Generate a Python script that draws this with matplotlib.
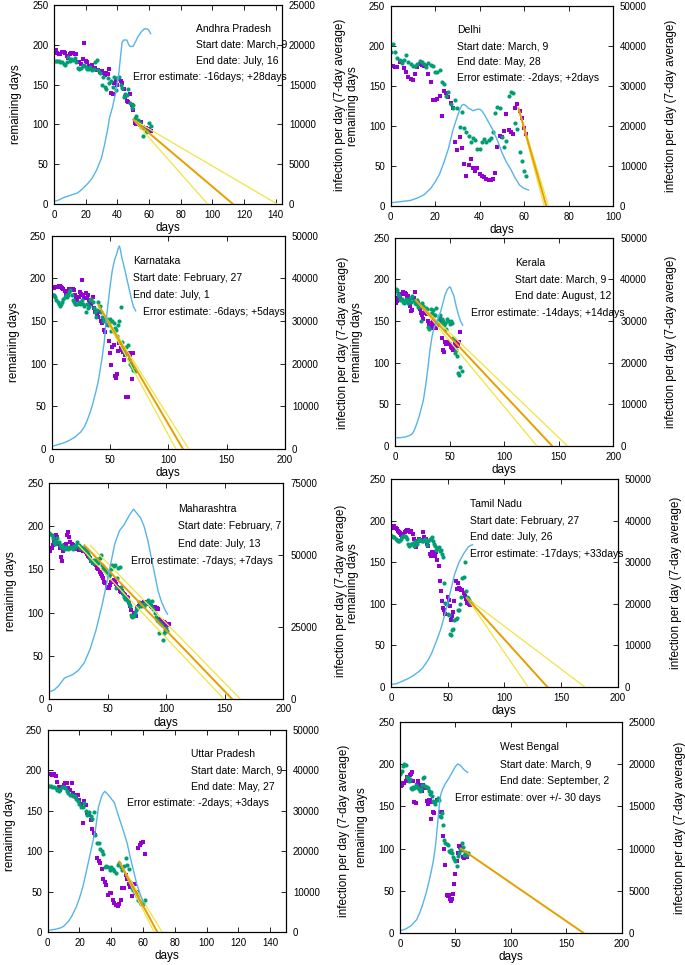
import numpy as np
import matplotlib
matplotlib.use('Agg')
import matplotlib.pyplot as plt

plt.rcParams['font.family'] = ['Liberation Sans', 'DejaVu Sans']

# ---------------- data ----------------
states = ["Andhra Pradesh", "Delhi", "Karnataka", "Kerala",
          "Maharashtra", "Tamil Nadu", "Uttar Pradesh", "West Bengal"]
start_dates = ["March, 9", "March, 9", "February, 27", "March, 9",
               "February, 7", "February, 27", "March, 9", "March, 9"]
end_dates = ["July, 16", "May, 28", "July, 1", "August, 12",
             "July, 13", "July, 26", "May, 27", "September, 2"]
error_texts = ["-16days; +28days", "-2days; +2days", "-6days; +5days", "-14days; +14days",
               "-7days; +7days", "-17days; +33days", "-2days; +3days", "over +/- 30 days"]

# purple squares (remaining days, one per day starting at day 0)
purple_ap = [194,193,190,188,189,191,191,190,186,183, 188,190,190,189,188,178,178,176,182,202,
             180,178,173,172,174,170,171,168,168,166, 167,164,162,165,163,169,140,138,152,155,
             150,157,155,152,145,135,130,128,138,124, 118,102,100,100,99,103,97,96,95,93, 94,92]
green_ap = [180,180,180,180,179,178,176,175,178,185, 180,182,181,183,178,171,170,171,173,175,
            172,170,170,172,168,170,178,181,168,165, 150,160,147,144,158,152,155,147,160,143,
            158,160,150,146,135,138,137,145,127,121, 125,108,110,105,102,97,85,96,90,92, 102,98]
blue_ap_days = [0,3,6,9,12,15,18,21,24,27,30,32,34,35,37,39,41,42,43,44,46,47,48,50,51,53,55,57,59,60,61]
blue_ap = [300,500,800,1000,1200,1400,1900,2500,3200,4300,5800,7500,9500,10800,12200,14000,16500,
           18500,20300,20600,20600,20100,19800,19800,20200,21000,21600,22000,22000,21800,21400]

purple_dl = [175,175,174,174,180,180,172,167,161,159, 158,165,174,177,176,175,175,165,155,133,
             133,134,137,112,144,141,136,129,122,80, 70,86,72,52,38,51,59,48,44,47,
             40,38,36,34,32,32,34,41,74,87, 86,94,115,95,92,90,123,127,119,110, 98,90]
green_dl = [193,202,193,185,183,179,182,189,180,177, 175,175,177,181,180,178,174,179,176,175,
            168,168,170,155,153,137,143,128,123,132, 123,99,117,97,93,88,80,85,82,71,
            71,80,84,80,82,85,92,116,124,122, 86,74,81,138,143,141,104,96,68,56, 44,38]
blue_dl_days = [0,3,6,9,12,15,18,20,22,24,26,28,30,31,32,33,34,35,36,37,38,39,40,41,42,44,46,48,50,52,54,56,58,60,62]
blue_dl = [800,1000,1200,1400,2000,2800,4400,6000,8000,11000,14400,19000,22400,24000,25200,25400,
           25000,24400,24200,23800,24000,24200,24200,23800,23000,21000,19000,16400,13400,11000,
           9200,7000,5200,4400,4000]

purple_ka = [189,189,189,190,190,190,191,191,190,189, 187,185,182,180,183,187,188,187,188,186,
             180,176,175,178,184,182,198,180,177,183, 177,181,175,172,170,178,165,160,162,157,
             155,160,150,148,150,140,137,145,148,127, 113,98,120,122,85,83,88,115,124,118,
             116,114,104,110,61,61,113,110,100,82, 113]
green_ka = [181,181,180,178,175,172,170,168,170,172, 176,178,180,178,180,184,186,180,175,172,
            170,170,170,172,170,172,175,170,168,160, 170,165,168,175,176,172,165,160,155,163,
            172,168,160,155,150,154,150,152,145,148, 152,138,150,148,142,139,132,145,150,166,
            125,118,115,112,120,122,105,100,98,96, 93,92]
blue_ka_days = [0,5,10,15,20,25,28,30,33,35,38,40,43,45,47,50,52,54,56,57,58,59,60,62,64,66,68,70,72]
blue_ka = [600,1000,1400,2000,2800,4000,5200,6400,8600,10400,13600,16000,21000,25000,31000,38000,
           42000,44400,46000,47000,47600,46600,45000,42800,40400,38000,35600,33400,32400]

purple_kl = [172,172,174,178,182,178,182,185,184,184, 182,180,180,175,168,162,163,178,185,172,
             170,172,168,165,160,157,152,160,162,158, 150,147,145,148,142,150,146,142,142,145,
             150,152,148,130,115,113,125,122,125,125, 122,119,118,115,120,122,125,120,122,125, 137]
green_kl = [186,188,187,182,180,175,177,173,172,174, 176,173,172,175,178,173,180,175,172,171,
            175,167,170,168,150,172,168,165,166,165, 143,140,158,165,160,163,157,157,166,150,
            155,157,148,152,150,145,148,140,153,150, 147,150,148,130,128,112,115,108,88,85, 95,90]
blue_kl_days = [0,5,10,14,16,18,20,22,24,26,28,30,32,34,36,38,40,42,44,46,48,50,51,52,54,56,58,60,62]
blue_kl = [2000,2000,2200,2600,3000,4000,5400,7000,9000,11000,14400,18400,23000,26400,28600,29600,
           31000,32400,34400,36400,37600,38200,38000,37200,36000,33600,31600,30000,29000]

purple_mh = [172,172,175,178,182,185,190,188,180,175, 165,160,172,178,180,190,193,188,182,180,
             178,176,175,176,174,173,175,174,173,172, 172,170,168,166,164,163,160,158,157,156,
             155,152,150,147,145,142,140,136,134,130, 128,128,132,135,137,138,136,133,130,128,
             125,124,125,123,122,120,118,117,112,108, 103,96,100,97,96,105,107,108,111,110,
             110,112,111,112,111,110,110,108,106,107, 107,104,105,104,92,91,90,89,89,88, 86,85,87]
green_mh = [192,191,190,186,182,180,183,186,182,178, 176,178,175,174,176,175,174,176,175,176,
            174,177,176,178,182,178,175,176,175,174, 175,173,170,168,165,162,160,157,161,158,
            160,162,158,163,167,155,152,150,148,146, 144,142,145,150,155,154,155,128,140,152,
            153,130,125,122,118,116,115,113,110,108, 97,95,96,100,103,105,106,112,108,110,
            109,108,110,112,114,110,112,108,113,104, 100,95,91,90,76,88,86,68,76,80, 82,79]
blue_mh_days = [0,4,8,13,20,25,30,35,40,45,50,53,56,60,64,68,72,75,78,81,84,87,90,93,96,99,101]
blue_mh = [2400,3000,4500,7200,8400,9900,12600,17400,24000,32400,42000,48000,54000,58500,60600,
           63600,66000,64500,63000,60000,55500,49500,43500,37500,33600,30900,29400]

purple_tn = [192,191,192,193,191,190,188,186,185,183, 182,184,186,188,189,189,188,186,188,184,
             178,172,168,174,176,178,175,177,186,180, 175,178,172,170,160,158,162,158,160,158,
             162,153,145,128,115,103,95,92,88,100, 108,104,97,80,85,90,103,127,118,125,
             119,118,117,117,113,109,106,101,103,100, 99]
green_tn = [181,181,180,180,178,177,175,176,177,178, 180,181,181,180,178,172,170,171,172,173,
            170,174,175,172,176,178,177,176,175,177, 178,176,171,176,178,178,180,175,172,170,
            165,167,168,163,165,160,156,125,101,100, 88,86,64,62,68,70,81,82,83,92,
            93,100,108,131,132,150,115,108,107,104, 102,101]
blue_tn_days = [0,5,10,15,20,25,28,30,33,36,40,44,48,52,56,60,64,68,70,72]
blue_tn = [600,800,1400,2000,2800,3800,4600,5400,6600,8200,11000,14000,18000,22400,27000,30000,
           32000,33600,34000,34200]

purple_up = [195,195,195,194,195,193,186,180,176,180, 182,184,184,178,176,184,172,170,167,170,
             163,158,135,162,157,147,145,138,127,122, 120,91,88,85,78,66,62,58,46,48,
             48,40,36,33,32,35,40,54,55,70, 65,60,56,44,58,60,50,104,108,110, 112,97]
green_up = [181,181,181,180,180,178,176,175,177,179, 180,178,175,172,170,170,168,168,164,162,
            158,155,155,160,150,145,148,143,140,148, 120,110,110,103,100,97,80,82,80,77,
            80,78,75,73,83,85,80,77,82,92, 83,78,62,55,52,48,45,40,37,35, 35,40]
blue_up_days = [0,5,8,10,13,15,18,20,22,24,26,28,30,32,34,35,36,37,38,40,42,44,46,48,50,52,54,56,58,60,61]
blue_up = [400,700,1000,1400,2600,3800,6200,8400,11000,14400,18000,21600,25200,31000,33600,34400,
           34800,34400,34000,33000,32000,29400,27000,24600,22000,18400,15200,12000,9600,7600,7000]

purple_wb = [174,174,175,178,178,180,185,182,180,187, 188,190,180,155,154,175,180,175,173,170,
             168,175,173,172,156,153,157,157,135,155, 143,142,155,157,158,158,143,143,143,115,
             100,81,45,44,45,40,38,40,46,58, 70,85,95,103,102,100,98,90,89,90, 90]
green_wb = [188,190,192,198,200,199,185,183,180,182, 172,170,173,172,175,173,172,170,168,170,
            175,183,185,174,173,172,168,165,167,162, 156,155,153,157,160,157,138,137,142,128,
            110,107,105,104,97,96,98,95,90,88, 86,80,91,95,100,98,107,102,93,96, 92,95]
blue_wb_days = [0,5,10,15,18,20,23,25,28,30,32,34,35,36,37,39,41,44,47,50,52,54,56,58,60,61]
blue_wb = [300,500,900,1600,2500,3200,4500,5500,7200,8500,10300,13000,14500,15800,16500,17200,
           17700,18300,19000,19700,20000,19900,19600,19300,19100,19000]

# fitted lines: start point and the day where each line reaches 0
fit_start_day = [50, 57.5, 40, 19, 30, 67, 45, 55]
fit_start_val = [106, 122, 169, 175, 178, 107, 87, 100]
fit_end_day = [113, 70, 112.5, 144, 156, 138, 69, 166]
fit_low_day = [97, 69, 106.5, 130, 149, 121, 67, None]
fit_high_day = [141, 71, 117.5, 158, 163, 171, 72, None]
fit_band_shift = [0, 0, 0, 0, 5, 0, 0, 0]   # yellow lines offset at start (days)

x_max = [144, 100, 200, 200, 200, 200, 150, 200]
x_step = [20, 20, 50, 50, 50, 50, 20, 50]
y2_max = [25000, 50000, 50000, 50000, 75000, 50000, 50000, 25000]
y2_step = [5000, 10000, 10000, 10000, 25000, 10000, 10000, 5000]
label_x = [90, 30, 70, 110, 110, 70, 90, 90]
error_label_x = [50, 30, 78, 70, 70, 70, 50, 50]

purples = [purple_ap, purple_dl, purple_ka, purple_kl, purple_mh, purple_tn, purple_up, purple_wb]
greens = [green_ap, green_dl, green_ka, green_kl, green_mh, green_tn, green_up, green_wb]
blue_days = [blue_ap_days, blue_dl_days, blue_ka_days, blue_kl_days, blue_mh_days, blue_tn_days,
             blue_up_days, blue_wb_days]
blues = [blue_ap, blue_dl, blue_ka, blue_kl, blue_mh, blue_tn, blue_up, blue_wb]

# ---------------- layout (pixel boxes: left, right, top, bottom) ----------------
W, H = 685, 965
boxes = [(54, 282, 5, 204), (390.7, 613, 6, 206),
         (51.7, 285, 235.7, 449), (395, 613.3, 237.7, 446),
         (49.3, 283.3, 483.3, 698.7), (391, 617.7, 479, 687),
         (47.7, 286, 730, 932), (400, 621.7, 721.7, 933.3)]

PURPLE = '#9400D3'
GREEN = '#009E73'
BLUE = '#56B4E9'
ORANGE = '#E69F00'
YELLOW = '#F0E442'

fig = plt.figure(figsize=(W / 100, H / 100), dpi=100)

for i in range(8):
    l, r, t, b = boxes[i]
    wpx, hpx = r - l, b - t
    ax = fig.add_axes([l / W, 1 - b / H, wpx / W, hpx / H])
    ax2 = ax.twinx()

    pv = purples[i]
    gv = greens[i]
    ax.plot(np.arange(len(pv)), pv, linestyle='none', marker='s', ms=3.0, mew=0,
            color=PURPLE, zorder=2)
    ax.plot(np.arange(len(gv)), gv, linestyle='none', marker='o', ms=3.0, mew=0,
            color=GREEN, zorder=3)

    x0, y0 = fit_start_day[i], fit_start_val[i]
    if fit_low_day[i] is not None:
        s = fit_band_shift[i]
        ax.plot([x0 - s, fit_low_day[i]], [y0, 0], color=YELLOW, lw=0.9, zorder=4)
        ax.plot([x0 + s, fit_high_day[i]], [y0, 0], color=YELLOW, lw=0.9, zorder=4)
    ax.plot([x0, fit_end_day[i]], [y0, 0], color=ORANGE, lw=1.4, zorder=5)

    ax2.plot(blue_days[i], blues[i], color=BLUE, lw=1.0)

    ax.set_xlim(0, x_max[i])
    ax.set_ylim(0, 250)
    ax2.set_ylim(0, y2_max[i])
    ax.set_xticks(np.arange(0, x_max[i] + 1, x_step[i]))
    ax.set_yticks(np.arange(0, 251, 50))
    yt2 = np.arange(0, y2_max[i] + 1, y2_step[i])
    ax2.set_yticks(yt2)
    ax2.set_yticklabels([str(v) for v in yt2])

    ax.tick_params(axis='x', direction='in', top=True, length=3.5, width=0.6,
                   labelsize=7, pad=4)
    ax.tick_params(axis='y', direction='in', right=False, length=3.5, width=0.6,
                   labelsize=7, pad=4)
    ax2.tick_params(axis='y', direction='in', length=3.5, width=0.6, labelsize=7, pad=5)
    for a in (ax, ax2):
        for sp in a.spines.values():
            sp.set_linewidth(0.8)

    ax.set_xlabel('days', fontsize=8.5, va='center')
    ax.xaxis.set_label_coords(0.5, -24 / hpx)
    ax.set_ylabel('remaining days', fontsize=8.5, va='center')
    ax.yaxis.set_label_coords(-38 / wpx, 0.5)
    ax2.set_ylabel('infection per day (7-day average)', fontsize=8.5, va='center')
    ax2.yaxis.set_label_coords(1 + 58 / wpx, 0.5)

    ax2.text(label_x[i], y2_max[i] * 220 / 250, states[i], fontsize=7.5, va='center', ha='left')
    ax2.text(label_x[i], y2_max[i] * 200 / 250, 'Start date: ' + start_dates[i], fontsize=7.5,
             va='center', ha='left')
    ax2.text(label_x[i], y2_max[i] * 180 / 250, 'End date: ' + end_dates[i], fontsize=7.5,
             va='center', ha='left')
    ax2.text(error_label_x[i], y2_max[i] * 160 / 250, 'Error estimate: ' + error_texts[i],
             fontsize=7.5, va='center', ha='left')

fig.savefig('out.png', dpi=100)
